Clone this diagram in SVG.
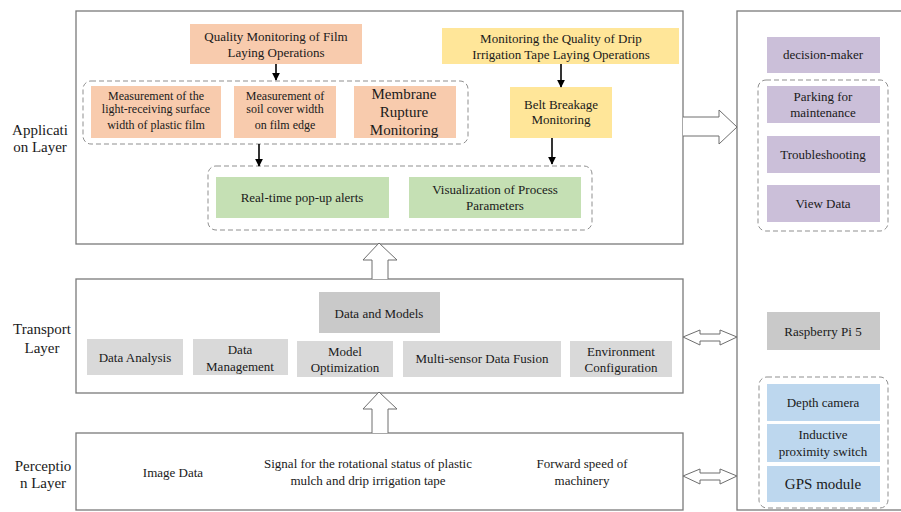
<svg xmlns="http://www.w3.org/2000/svg" width="901" height="512" viewBox="0 0 901 512" font-family="'Liberation Serif', 'Times New Roman', serif">
<style>
text{font-family:'Liberation Serif','Times New Roman',serif;font-size:13px;fill:#1a1a1a;text-anchor:middle}
.big{font-size:15px}
.sm{font-size:12px}
.layer{fill:#fff;stroke:#7a7a7a;stroke-width:1.3}
.grp{fill:none;stroke:#8f8f8f;stroke-width:1;stroke-dasharray:5,3}
.or{fill:#F8CBAD}.ye{fill:#FFE699}.gr{fill:#C5E0B4}.pu{fill:#CBBFD9}.g1{fill:#D9D9D9}.g2{fill:#C9C9C9}.bl{fill:#BDD7EE}
.hol{fill:#fff;stroke:#6e6e6e;stroke-width:1}
.ar{stroke:#000;stroke-width:1.6;fill:none}
</style>
<defs>
<marker id="ah" viewBox="0 0 10 10" refX="9" refY="5" markerWidth="5" markerHeight="5" orient="auto" markerUnits="strokeWidth"><path d="M0,0L10,5L0,10z" fill="#000"/></marker>
</defs>

<g id="labels">
<text class="big" x="40" y="135">Applicati</text>
<text class="big" x="40" y="152">on Layer</text>
<text class="big" x="42" y="334">Transport</text>
<text class="big" x="42" y="353">Layer</text>
<text class="big" x="43" y="471">Perceptio</text>
<text class="big" x="43" y="488">n Layer</text>
</g>

<g id="application-layer"><rect class="layer" x="76" y="11" width="607" height="233"/></g>
<g id="transport-layer"><rect class="layer" x="76" y="279" width="607" height="114"/></g>
<g id="perception-layer"><rect class="layer" x="76" y="433" width="607" height="77"/>
<text x="173" y="476.5">Image Data</text>
<text x="368" y="467.5">Signal for the rotational status of plastic</text>
<text x="368" y="484.5">mulch and drip irrigation tape</text>
<text x="582" y="467.5">Forward speed of</text>
<text x="582" y="484.5">machinery</text>
</g>
<g id="hardware"><rect class="layer" x="737" y="11" width="170" height="499"/></g>

<g id="groups">
<rect class="grp" x="83" y="81" width="385" height="63" rx="8"/>
<rect class="grp" x="208" y="166" width="384" height="64" rx="8"/>
<rect class="grp" x="758" y="80" width="130" height="151" rx="8"/>
<rect class="grp" x="759" y="377" width="129" height="131" rx="8"/>
</g>

<g id="film-quality"><rect class="or" x="190" y="24" width="172" height="40"/>
<text x="276" y="40.5">Quality Monitoring of Film</text><text x="276" y="56.5">Laying Operations</text></g>
<g id="drip-quality"><rect class="ye" x="442" y="28" width="237" height="36"/>
<text x="561" y="42.5">Monitoring the Quality of Drip</text><text x="561" y="58.5">Irrigation Tape Laying Operations</text></g>
<g id="light-surface"><rect class="or" x="91" y="86" width="130" height="52"/>
<text class="sm" x="156" y="99.5">Measurement of the</text><text class="sm" x="156" y="113">light-receiving surface</text><text class="sm" x="156" y="129">width of plastic film</text></g>
<g id="soil-cover"><rect class="or" x="234" y="86" width="102" height="52"/>
<text class="sm" x="285" y="99.5">Measurement of</text><text class="sm" x="285" y="113">soil cover width</text><text class="sm" x="285" y="129">on film edge</text></g>
<g id="membrane"><rect class="or" x="354" y="86" width="102" height="52"/>
<text class="big" x="404" y="99">Membrane</text><text class="big" x="404" y="117">Rupture</text><text class="big" x="404" y="135">Monitoring</text></g>
<g id="belt-breakage"><rect class="ye" x="510" y="87" width="102" height="51"/>
<text x="561" y="108.5">Belt Breakage</text><text x="561" y="123.5">Monitoring</text></g>
<g id="popup"><rect class="gr" x="216" y="177" width="173" height="41"/>
<text x="302" y="201.5">Real-time pop-up alerts</text></g>
<g id="visualization"><rect class="gr" x="409" y="177" width="172" height="41"/>
<text x="495" y="193.5">Visualization of Process</text><text x="495" y="209.5">Parameters</text></g>

<g id="decision-maker"><rect class="pu" x="767" y="37" width="113" height="36"/><text x="823" y="58.5">decision-maker</text></g>
<g id="parking"><rect class="pu" x="767" y="86" width="113" height="37"/><text x="823" y="101">Parking for</text><text x="823" y="117">maintenance</text></g>
<g id="troubleshooting"><rect class="pu" x="767" y="136" width="113" height="37"/><text x="823" y="158.5">Troubleshooting</text></g>
<g id="view-data"><rect class="pu" x="767" y="185" width="113" height="37"/><text x="823" y="207.5">View Data</text></g>

<g id="data-models"><rect class="g2" x="319" y="292" width="121" height="41"/><text x="379" y="317.5">Data and Models</text></g>
<g id="data-analysis"><rect class="g1" x="87" y="339" width="96" height="36"/><text x="135" y="361.5">Data Analysis</text></g>
<g id="data-management"><rect class="g1" x="193" y="339" width="95" height="36"/><text x="240" y="353.5">Data</text><text x="240" y="370.5">Management</text></g>
<g id="model-optimization"><rect class="g1" x="297" y="341" width="96" height="36"/><text x="345" y="355.5">Model</text><text x="345" y="371.5">Optimization</text></g>
<g id="multi-sensor"><rect class="g1" x="403" y="341" width="158" height="36"/><text x="482" y="362.5">Multi-sensor Data Fusion</text></g>
<g id="environment"><rect class="g1" x="570" y="341" width="102" height="36"/><text x="621" y="355.5">Environment</text><text x="621" y="371.5">Configuration</text></g>

<g id="raspberry"><rect class="g2" x="767" y="312" width="113" height="38"/><text x="823" y="335.5">Raspberry Pi 5</text></g>
<g id="depth-camera"><rect class="bl" x="767" y="384" width="113" height="37"/><text x="823" y="406.5">Depth camera</text></g>
<g id="inductive"><rect class="bl" x="767" y="424" width="113" height="38"/><text x="823" y="438.5">Inductive</text><text x="823" y="455.5">proximity switch</text></g>
<g id="gps"><rect class="bl" x="767" y="466" width="113" height="36"/><text class="big" x="823" y="488.5">GPS module</text></g>

<g id="connectors">
<line class="ar" x1="276" y1="64" x2="276" y2="80" marker-end="url(#ah)"/>
<line class="ar" x1="561" y1="64" x2="561" y2="87" marker-end="url(#ah)"/>
<line class="ar" x1="259" y1="144" x2="259" y2="166" marker-end="url(#ah)"/>
<line class="ar" x1="552" y1="138" x2="552" y2="164" marker-end="url(#ah)"/>
<path class="hol" d="M683,117H719V110L737,127L719,144V136H683"/>
<path class="hol" d="M372,279V260H363L379,243L397,260H388V279"/>
<path class="hol" d="M372,433V409H363L379,392L397,409H388V433"/>
<path class="hol" d="M683,337L700,330V334H720V330L737,337L720,345V341H700V345Z"/>
<path class="hol" d="M683,476L700,469V473H720V469L737,476L720,484V480H700V484Z"/>
</g>
</svg>
